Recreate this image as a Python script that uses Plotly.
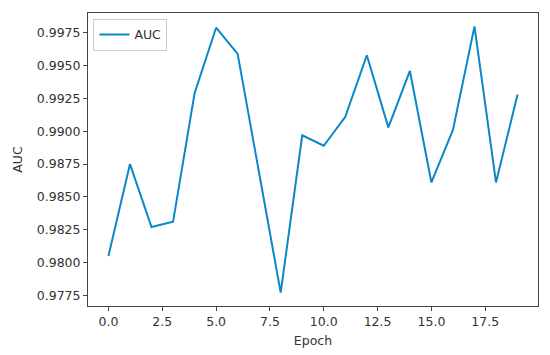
import plotly.graph_objects as go

# AUC per epoch
epochs = list(range(20))
auc = [0.9805, 0.9875, 0.9827, 0.9831, 0.9929, 0.9979, 0.9959, 0.9867, 0.9777, 0.9897,
       0.9889, 0.9911, 0.9958, 0.9903, 0.9946, 0.9861, 0.9901, 0.9980, 0.9861, 0.9928]

line_color = '#0a87c6'
font_color = '#333333'

fig = go.Figure()
fig.add_trace(go.Scatter(
    x=epochs,
    y=auc,
    mode='lines',
    name='AUC',
    line=dict(color=line_color, width=2),
))

fig.update_layout(
    width=550,
    height=355,
    margin=dict(l=88, r=12, t=13, b=49, autoexpand=False),
    plot_bgcolor='white',
    paper_bgcolor='white',
    font=dict(family='DejaVu Sans', size=12.5, color=font_color),
    showlegend=True,
    legend=dict(
        x=0.012, y=0.98,
        xanchor='left', yanchor='top',
        bordercolor='#cccccc',
        borderwidth=1,
        bgcolor='rgba(255,255,255,0.8)',
        font=dict(size=12.5),
        itemwidth=30,
    ),
)

fig.update_xaxes(
    title=dict(text='Epoch', standoff=8, font=dict(size=12.5)),
    range=[-0.95, 19.95],
    tick0=0, dtick=2.5,
    tickformat='.1f',
    automargin=False,
    showgrid=False, zeroline=False,
    showline=True, linecolor='#444444', linewidth=1, mirror=True,
    ticks='outside', ticklen=4, tickcolor='#444444',
)

fig.update_yaxes(
    title=dict(text='AUC', standoff=11, font=dict(size=12.5)),
    range=[0.97668, 0.99902],
    tick0=0.9775, dtick=0.0025,
    tickformat='.4f',
    automargin=False,
    showgrid=False, zeroline=False,
    showline=True, linecolor='#444444', linewidth=1, mirror=True,
    ticks='outside', ticklen=4, tickcolor='#444444',
)

# the page's default body margin would push the figure 8px right and down
fig.write_html('out.html', config={'displayModeBar': False},
               post_script="document.body.style.margin='0';")
